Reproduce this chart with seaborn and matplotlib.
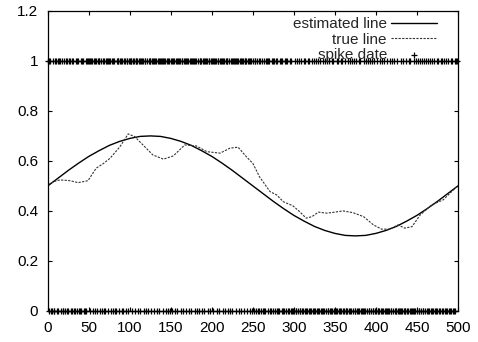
import matplotlib
matplotlib.use("Agg")
import matplotlib.pyplot as plt
import numpy as np
import pandas as pd
import seaborn as sns

# estimated line (sampled every 12.5)
est_t = [i * 12.5 for i in range(41)]
est_y = [0.500, 0.531, 0.562, 0.591, 0.618, 0.641, 0.662, 0.678, 0.690, 0.698, 0.700,
         0.698, 0.690, 0.678, 0.662, 0.641, 0.618, 0.591, 0.562, 0.531, 0.500,
         0.469, 0.438, 0.409, 0.382, 0.359, 0.338, 0.322, 0.310, 0.302, 0.300,
         0.302, 0.310, 0.322, 0.338, 0.359, 0.382, 0.409, 0.438, 0.469, 0.500]

# true line
true_t = [0, 8, 15, 27, 37, 49, 59, 68, 76, 88, 98, 106, 116, 128, 141, 153, 167, 181,
          194, 210, 222, 232, 242, 250, 258, 271, 279, 287, 299, 307, 315, 322, 330,
          340, 350, 360, 372, 385, 397, 407, 417, 427, 435, 444, 454, 468, 482, 498, 500]
true_y = [0.505, 0.518, 0.524, 0.521, 0.513, 0.521, 0.571, 0.590, 0.611, 0.657, 0.708,
          0.697, 0.664, 0.624, 0.607, 0.620, 0.664, 0.660, 0.637, 0.631, 0.651, 0.655,
          0.617, 0.590, 0.537, 0.477, 0.464, 0.437, 0.420, 0.397, 0.371, 0.377, 0.395,
          0.391, 0.395, 0.400, 0.393, 0.377, 0.344, 0.327, 0.327, 0.344, 0.331, 0.337,
          0.384, 0.424, 0.444, 0.495, 0.500]

# spike train, one bit per time step (1 = spike at top, 0 = bottom)
spike_bits = (
    "10110010011010110100101100110101001101001011001011"
    "11011010110111010110011011101101001110110101101101"
    "11101101110110111011010111011011101101110111010110"
    "10111011011101101101110110111011010111011011101101"
    "11011101101110110111010110111011101101101110110110"
    "10110100110101001101100101101010011010010110010100"
    "01001010010011000101001001010010100100101001001010"
    "00101001010010001010010100100101000100101001010010"
    "01000100101000100100101000100010010001001010001001"
    "01001010010100101001010010100101010010100101001011"
)

sns.set_style("ticks")
plt.rcParams["font.family"] = ["Liberation Sans", "DejaVu Sans"]

fig = plt.figure(figsize=(4.78, 3.42), dpi=100)
ax = fig.add_axes([0.100, 0.091, 0.858, 0.877])

spikes = pd.DataFrame({"t": np.arange(len(spike_bits)),
                       "v": [int(c) for c in spike_bits]})

sns.lineplot(x=est_t, y=est_y, ax=ax, color="black", linewidth=1.0,
             label="estimated line")
sns.lineplot(x=true_t, y=true_y, ax=ax, color="#333333", linewidth=0.8,
             linestyle=(0, (2, 1.2)), label="true line")
sns.scatterplot(data=spikes, x="t", y="v", ax=ax, marker="+", color="black",
                s=14, linewidth=0.9, label="spike date", clip_on=False)

ax.set_xlim(0, 500)
ax.set_ylim(0, 1.2)
ax.set_xticks(range(0, 501, 50))
ax.set_yticks([0, 0.2, 0.4, 0.6, 0.8, 1, 1.2])
ax.set_yticklabels(["0", "0.2", "0.4", "0.6", "0.8", "1", "1.2"])
ax.set_xlabel("")
ax.set_ylabel("")
ax.tick_params(direction="in", length=3, width=0.8, top=True, right=True,
               labelsize=11, colors="black", pad=7)
for s in ax.spines.values():
    s.set_visible(True)
    s.set_linewidth(0.9)
    s.set_color("black")

ax.legend(loc="upper right", frameon=False, markerfirst=False, fontsize=11,
          handlelength=3.0, labelspacing=0.1, borderaxespad=0.1,
          handletextpad=0.25, borderpad=0.3,
          bbox_to_anchor=(0.963, 1.0))

fig.savefig("out.png", dpi=100)
